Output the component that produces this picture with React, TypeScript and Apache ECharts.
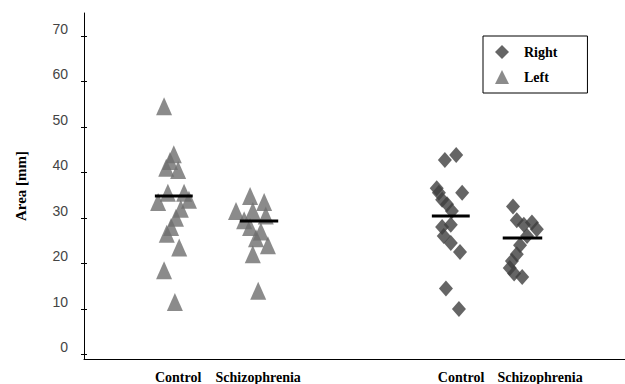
import React, { useEffect, useRef } from "react";
import * as echarts from "echarts";

// Group label positions on the x scale (0..100)
const groupLabels = ["Control", "Schizophrenia", "Control", "Schizophrenia"];
const groupLabelX = [17.4, 32.2, 69.7, 84.3];

// Left hemisphere (triangles)
const controlLeftX = [14.8, 16.6, 15.9, 15.2, 17.4, 15.5, 18.5, 13.7, 19.4, 17.9, 17.0, 16.1, 15.3, 17.6, 14.8, 16.8];
const controlLeftY = [54.5, 44, 42.5, 41, 40.5, 35.5, 35.5, 33.5, 34, 32, 30, 28, 26.5, 23.5, 18.5, 11.5];
const schizoLeftX = [30.7, 33.3, 28.1, 31.2, 33.6, 30.7, 31.8, 34.0, 31.2, 32.2, 29.6, 32.7];
const schizoLeftY = [34.8, 33.5, 31.5, 31.5, 30.5, 28, 25.5, 24, 22, 14, 29.5, 27];

// Right hemisphere (diamonds)
const controlRightX = [66.7, 68.8, 65.2, 69.9, 65.6, 66.2, 67.1, 68.0, 66.2, 67.8, 66.5, 67.8, 69.5, 66.9, 69.3];
const controlRightY = [42.7, 43.8, 36.5, 35.5, 35.5, 34, 33, 31.5, 28, 28.5, 26, 24.5, 22.5, 14.5, 10];
const schizoRightX = [79.3, 80.0, 81.3, 82.8, 83.7, 80.6, 80.0, 79.1, 78.7, 79.5, 81.0, 81.9];
const schizoRightY = [32.5, 29.5, 28.5, 29, 27.5, 24, 22, 20.5, 19, 17.8, 17, 26];

// Group means: [xStart, xEnd, mean]
const meanLines = [
  [13.1, 20.1, 34.8],
  [28.8, 35.9, 29.3],
  [64.3, 71.3, 30.4],
  [77.4, 84.7, 25.6],
];

const yTicks = [0, 10, 20, 30, 40, 50, 60, 70];

const zip = (xs: number[], ys: number[]) => xs.map((x, i) => [x, ys[i]]);

export default function App() {
  const ref = useRef<HTMLDivElement>(null);
  useEffect(() => {
    if (!ref.current) return;
    const chart = echarts.init(ref.current, null, { renderer: "svg" });
    const serif = "'Liberation Serif', 'Times New Roman', serif";
    const sans = "'Liberation Sans', Arial, sans-serif";
    chart.setOption({
      animation: false,
      backgroundColor: "#ffffff",
      grid: { left: 84, right: 0, top: 13, bottom: 24 },
      legend: {
        left: 483,
        top: 36,
        orient: "vertical",
        data: ["Right", "Left"],
        borderColor: "#000",
        borderWidth: 1,
        padding: [9, 30, 9, 12],
        itemGap: 11,
        itemWidth: 14,
        itemHeight: 14,
        textStyle: { fontFamily: serif, fontWeight: "bold", fontSize: 14, color: "#000", padding: [0, 0, 0, 10] },
      },
      xAxis: {
        type: "value",
        min: 0,
        max: 100,
        splitLine: { show: false },
        axisLine: { show: true, onZero: false, lineStyle: { color: "#000", width: 1 } },
        axisTick: { show: false },
        axisLabel: {
          customValues: groupLabelX,
          formatter: (v: number) => {
            let best = 0;
            groupLabelX.forEach((g, i) => {
              if (Math.abs(g - v) < Math.abs(groupLabelX[best] - v)) best = i;
            });
            return groupLabels[best];
          },
          margin: 11,
          fontFamily: serif,
          fontWeight: "bold",
          fontSize: 14,
          color: "#000",
        },
      },
      yAxis: [
        {
          type: "value",
          min: -1,
          max: 75,
          name: "Area [mm]",
          nameLocation: "middle",
          nameGap: 56,
          nameTextStyle: { fontFamily: serif, fontWeight: "bold", fontSize: 15, color: "#000" },
          splitLine: { show: false },
          axisLine: { show: true, lineStyle: { color: "#000", width: 1 } },
          axisTick: { show: true, customValues: yTicks, length: 3, lineStyle: { color: "#000" } },
          axisLabel: {
            customValues: yTicks,
            margin: 16,
            verticalAlign: "bottom",
            fontFamily: sans,
            fontSize: 14,
            color: "#444",
          },
        },
        {
          type: "value",
          min: -1,
          max: 75,
          position: "left",
          splitLine: { show: false },
          axisLine: { show: false },
          axisTick: { show: true, inside: true, customValues: yTicks, length: 3, lineStyle: { color: "#000" } },
          axisLabel: { show: false },
        },
      ],
      series: [
        {
          name: "Left",
          type: "scatter",
          symbol: "triangle",
          symbolSize: [16, 18],
          itemStyle: { color: "#6e6e6e" },
          data: [...zip(controlLeftX, controlLeftY), ...zip(schizoLeftX, schizoLeftY)],
          z: 2,
        },
        {
          name: "Right",
          type: "scatter",
          symbol: "diamond",
          symbolSize: [14, 16],
          itemStyle: { color: "#3e3e3e" },
          data: [...zip(controlRightX, controlRightY), ...zip(schizoRightX, schizoRightY)],
          z: 2,
        },
        ...meanLines.map((m) => ({
          type: "line",
          data: [
            [m[0], m[2]],
            [m[1], m[2]],
          ],
          symbol: "none",
          lineStyle: { color: "#000", width: 3 },
          z: 5,
          silent: true,
        })),
      ],
    });
    return () => chart.dispose();
  }, []);
  return <div ref={ref} style={{ position: "absolute", left: 0, top: 0, width: 625, height: 384 }} />;
}
